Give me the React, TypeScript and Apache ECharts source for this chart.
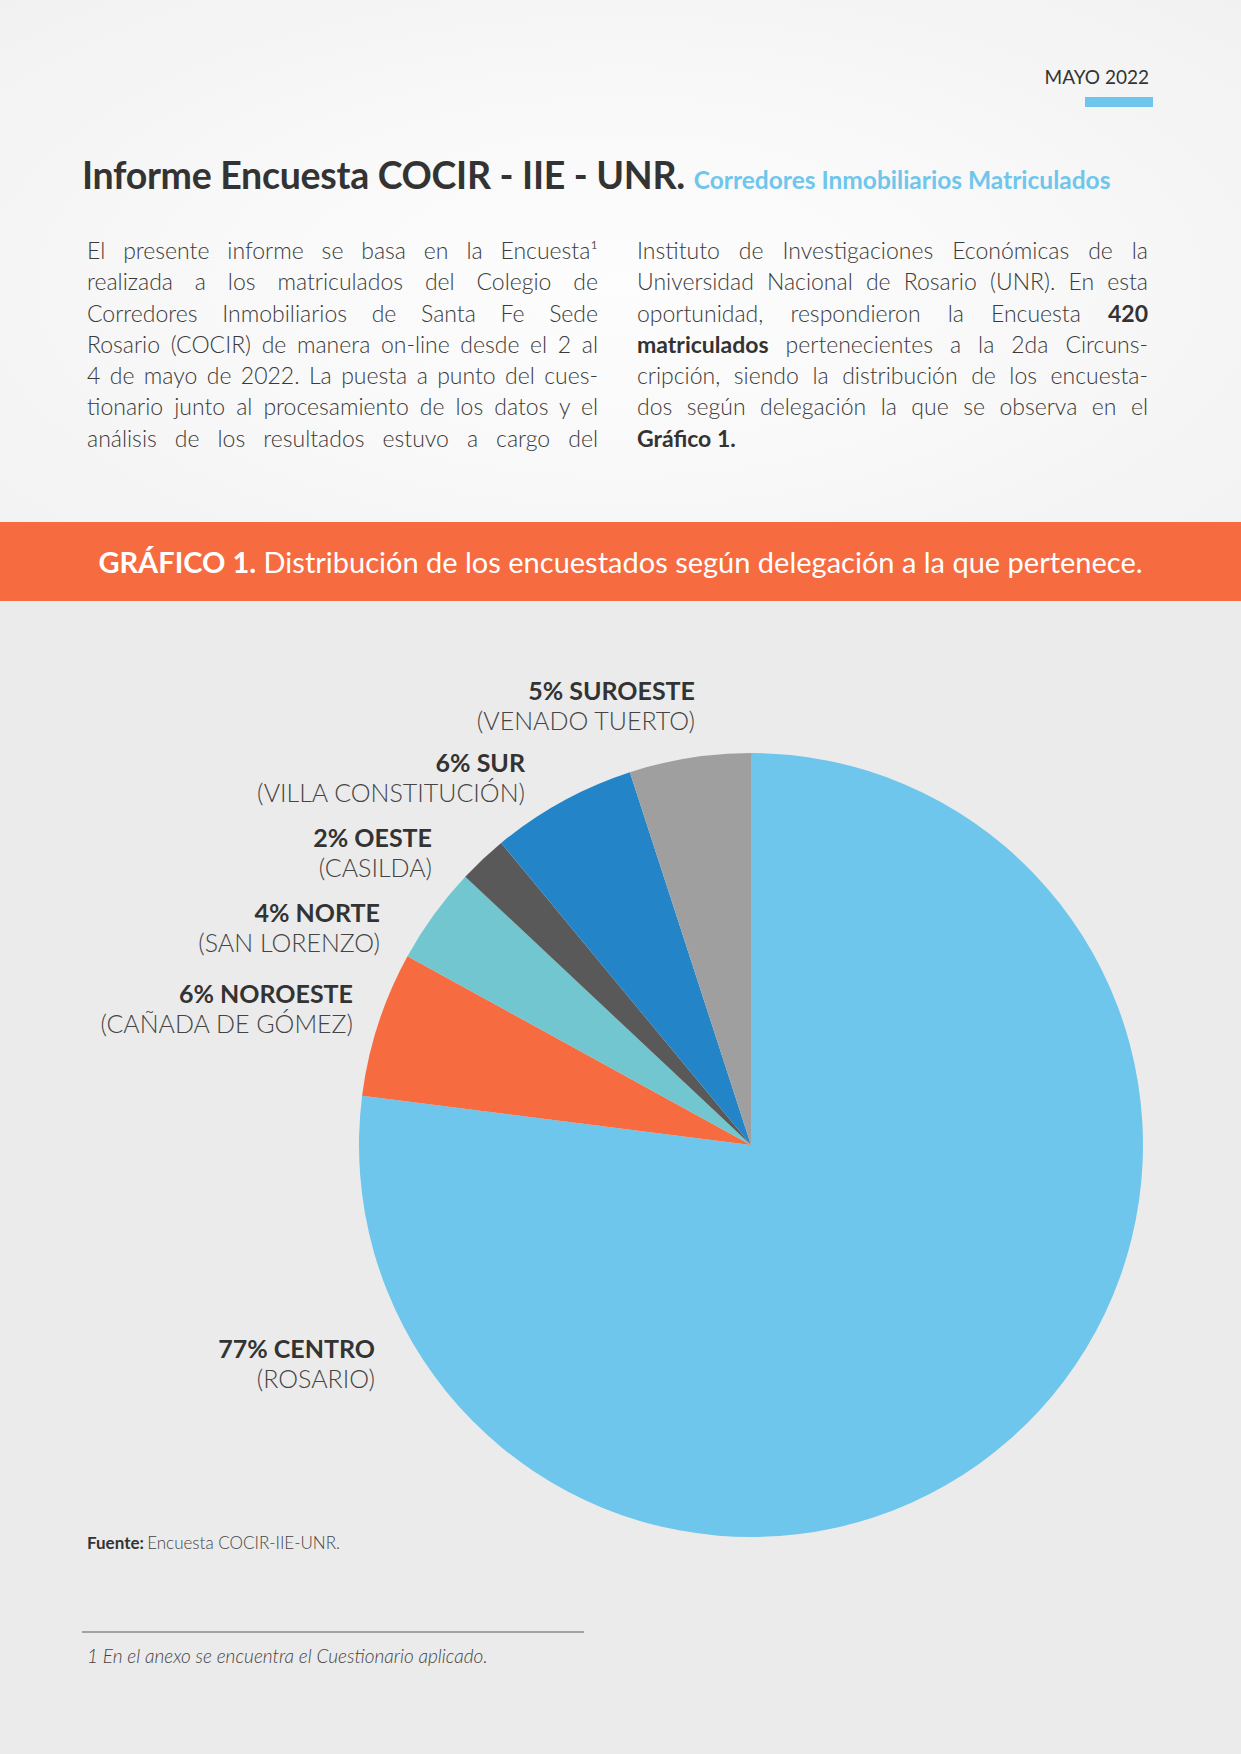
import React, { useEffect, useRef } from "react";
import * as echarts from "echarts";

const categories = ["CENTRO", "NOROESTE", "NORTE", "OESTE", "SUR", "SUROESTE"];
const cities = ["ROSARIO", "CAÑADA DE GÓMEZ", "SAN LORENZO", "CASILDA", "VILLA CONSTITUCIÓN", "VENADO TUERTO"];
const shares = [77, 6, 4, 2, 6, 5];

const sliceColors = ["#6EC6EC", "#F66B40", "#72C6CF", "#595959", "#2385C8", "#A09FA0"];
// label anchor points (right edge, vertical middle) in chart pixels
const labelAnchors = [
  [375, 762],
  [353, 407],
  [380, 326],
  [432, 251],
  [525, 176],
  [695, 104],
];

const leftLines = [
  "El presente informe se basa en la Encuesta¹",
  "realizada a los matriculados del Colegio de",
  "Corredores Inmobiliarios de Santa Fe Sede",
  "Rosario (COCIR) de manera on-line desde el 2 al",
  "4 de mayo de 2022. La puesta a punto del cues-",
  "tionario junto al procesamiento de los datos y el",
  "análisis de los resultados estuvo a cargo del",
];

const FONT = "Lato, 'Open Sans', 'DejaVu Sans', sans-serif";

const Line: React.FC<{ children: React.ReactNode; last?: boolean }> = ({ children, last }) => (
  <div
    style={{
      textAlign: last ? "left" : "justify",
      textAlignLast: last ? "left" : "justify",
      whiteSpace: "nowrap",
      height: 31.3,
      lineHeight: "31.3px",
    }}
  >
    {children}
  </div>
);

export default function App() {
  const ref = useRef<HTMLDivElement>(null);

  useEffect(() => {
    if (!ref.current) return;
    const chart = echarts.init(ref.current, null, { renderer: "svg" });
    chart.setOption({
      animation: false,
      backgroundColor: "transparent",
      series: [
        {
          type: "pie",
          center: [751, 544],
          radius: 392,
          startAngle: 90,
          clockwise: true,
          avoidLabelOverlap: false,
          silent: true,
          data: categories.map((c, i) => ({
            name: c,
            value: shares[i],
            itemStyle: { color: sliceColors[i] },
          })),
          label: {
            show: true,
            position: "outside",
            align: "right",
            formatter: (p: any) => `{b|${p.value}% ${p.name}}\n{l|(${cities[p.dataIndex]})}`,
            rich: {
              b: {
                fontFamily: FONT,
                fontSize: 25,
                fontWeight: "bold",
                color: "#333333",
                lineHeight: 30,
                align: "right",
              },
              l: {
                fontFamily: FONT,
                fontSize: 25,
                fontWeight: 300,
                color: "#444444",
                lineHeight: 30,
                align: "right",
              },
            },
          },
          labelLine: { show: false },
          labelLayout: (params: any) => ({
            x: labelAnchors[params.dataIndex][0],
            y: labelAnchors[params.dataIndex][1],
            align: "right",
            verticalAlign: "middle",
          }),
          emphasis: { disabled: true },
        },
      ],
      graphic: [
        {
          type: "text",
          left: 87,
          top: 933,
          style: {
            text: "{b|Fuente:} {l|Encuesta COCIR-IIE-UNR.}",
            rich: {
              b: { fontFamily: FONT, fontSize: 17, fontWeight: "bold", fill: "#333333" },
              l: { fontFamily: FONT, fontSize: 17, fontWeight: 300, fill: "#444444" },
            },
          },
        },
        {
          type: "line",
          shape: { x1: 82, y1: 1031, x2: 584, y2: 1031 },
          style: { stroke: "#8a8a8a", lineWidth: 1.5 },
        },
        {
          type: "text",
          left: 87,
          top: 1045,
          style: {
            text: "1 En el anexo se encuentra el Cuestionario aplicado.",
            fontFamily: FONT,
            fontSize: 19,
            fontStyle: "italic",
            fontWeight: 300,
            fill: "#444444",
          },
        },
      ],
    });
    return () => chart.dispose();
  }, []);

  return (
    <div
      style={{
        position: "absolute",
        left: 0,
        top: 0,
        width: 1241,
        height: 1754,
        overflow: "hidden",
        fontFamily: FONT,
        background: "#EBEBEB",
      }}
    >
      {/* top section */}
      <div
        style={{
          position: "absolute",
          left: 0,
          top: 0,
          width: 1241,
          height: 522,
          background: "radial-gradient(ellipse at 50% 55%, #fdfdfd 0%, #f8f8f8 50%, #f1f1f1 100%)",
        }}
      />
      <div
        style={{
          position: "absolute",
          right: 1241 - 1149,
          top: 66,
          fontSize: 19,
          color: "#333",
          fontWeight: 400,
          lineHeight: "22px",
        }}
      >
        MAYO 2022
      </div>
      <div style={{ position: "absolute", left: 1085, top: 97, width: 68, height: 10, background: "#6EC6EC" }} />

      <div
        style={{
          position: "absolute",
          left: 82,
          top: 152,
          whiteSpace: "nowrap",
          lineHeight: "46px",
          color: "#333333",
        }}
      >
        <span style={{ fontSize: 37.5, fontWeight: 700, letterSpacing: -0.3 }}>Informe Encuesta COCIR - IIE - UNR.</span>
        <span style={{ fontSize: 24.5, fontWeight: 700, color: "#6EC6EC", marginLeft: 9 }}>
          Corredores Inmobiliarios Matriculados
        </span>
      </div>

      <div
        style={{
          position: "absolute",
          left: 87,
          top: 235,
          width: 511,
          fontSize: 23,
          fontWeight: 300,
          color: "#3a3a3a",
        }}
      >
        {leftLines.map((l, i) => (
          <Line key={i}>{l}</Line>
        ))}
      </div>
      <div
        style={{
          position: "absolute",
          left: 637,
          top: 235,
          width: 511,
          fontSize: 23,
          fontWeight: 300,
          color: "#3a3a3a",
        }}
      >
        <Line>Instituto de Investigaciones Económicas de la</Line>
        <Line>Universidad Nacional de Rosario (UNR). En esta</Line>
        <Line>
          oportunidad, respondieron la Encuesta <b style={{ fontWeight: 700, color: "#333" }}>420</b>
        </Line>
        <Line>
          <b style={{ fontWeight: 700, color: "#333" }}>matriculados</b> pertenecientes a la 2da Circuns-
        </Line>
        <Line>cripción, siendo la distribución de los encuesta-</Line>
        <Line>dos según delegación la que se observa en el</Line>
        <Line last>
          <b style={{ fontWeight: 700, color: "#333" }}>Gráfico 1.</b>
        </Line>
      </div>

      {/* orange band */}
      <div
        style={{
          position: "absolute",
          left: 0,
          top: 522,
          width: 1241,
          height: 79,
          background: "#F66B40",
          color: "#ffffff",
          fontSize: 29,
          lineHeight: "79px",
          textAlign: "center",
          whiteSpace: "nowrap",
        }}
      >
        <span style={{ fontWeight: 700 }}>GRÁFICO 1.</span>
        <span style={{ fontWeight: 400 }}> Distribución de los encuestados según delegación a la que pertenece.</span>
      </div>

      {/* chart area */}
      <div ref={ref} style={{ position: "absolute", left: 0, top: 601, width: 1241, height: 1153 }} />
    </div>
  );
}
